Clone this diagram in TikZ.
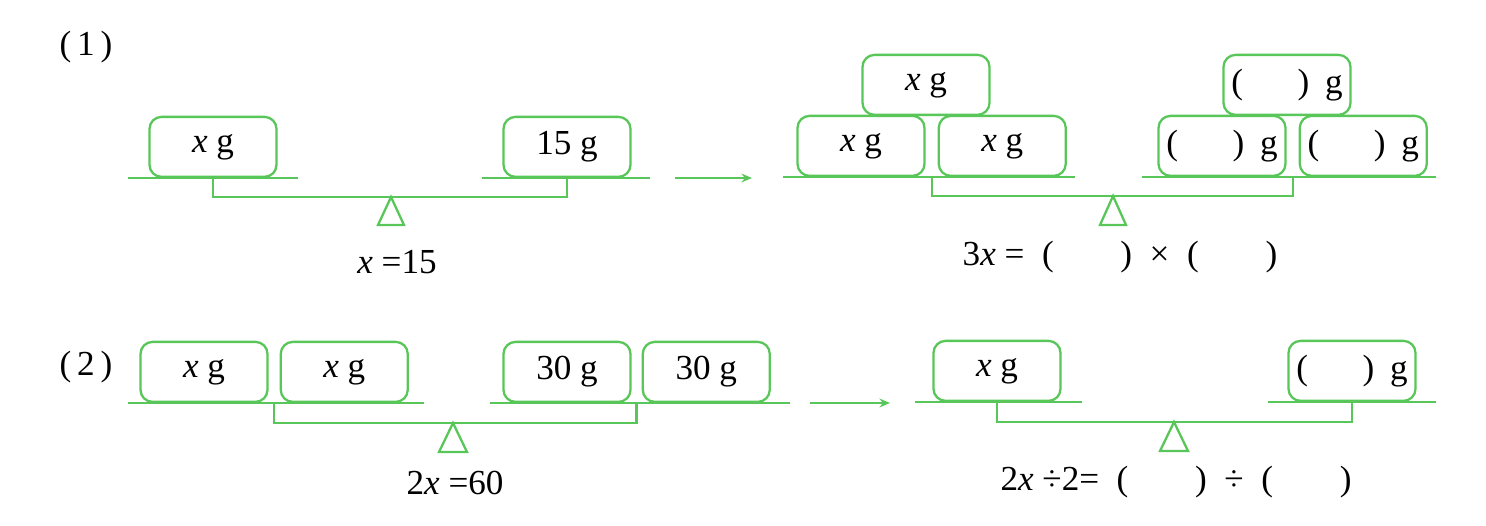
\documentclass[tikz,border=0pt]{standalone}
\usepackage{fontspec}
\setmainfont{Liberation Serif}
\usetikzlibrary{arrows.meta,positioning,calc}
\definecolor{balgreen}{RGB}{88,198,88}
\newcommand{\blankg}{(\hspace{1.55em})\hspace{0.45em}g}

\begin{document}
\begin{tikzpicture}[
    x=0.02cm, y=-0.02cm,
    font=\fontsize{20}{24}\selectfont,
    wt/.style={rectangle, draw=balgreen, rounded corners=0.24cm, minimum width=2.54cm,
        minimum height=1.2cm, inner sep=0pt, anchor=south, line width=1.3pt},
    bar/.style={draw=balgreen, line width=1.3pt},
    arr/.style={-{Stealth[length=6pt,width=5pt]}, draw=balgreen, line width=1.2pt},
    node distance=0.24cm
]
\useasboundingbox (0,0) rectangle (1486,525);

% (1) before
\node (lb1) at (86,47) {(\,1\,)};
\node[wt] (xa) at (213,178) {\textit{x} g};
\node[wt] (wa) at (567,178) {15 g};
\draw[bar] (128,178) -- (298,178);
\draw[bar] (482,178) -- (650,178);
\draw[bar] (xa.south) -- ++(0,19) -| (wa.south);
\draw[bar] (391,197) -- ++(-13,28) -- ++(26,0) -- cycle;
\node (eqa) at (397,262) {\textit{x} =15};

\coordinate (a1s) at (675,178);
\coordinate (a1e) at (752,178);
\draw[arr] (a1s) -- (a1e);

% (1) after
\node[wt] (xb1) at (861,177) {\textit{x} g};
\node[wt, right=of xb1] (xb2) {\textit{x} g};
\node[wt] (xb3) at (926,116) {\textit{x} g};
\node[wt] (qb1) at (1222,177) {\blankg};
\node[wt, right=of qb1] (qb2) {\blankg};
\node[wt] (qb3) at (1287,116) {\blankg};
\draw[bar] (783,177) -- (1075,177);
\draw[bar] (1142,177) -- (1436,177);
\draw[bar] ($(xb1.south east)!0.5!(xb2.south west)$) -- ++(0,19)
    -| ($(qb1.south east)!0.5!(qb2.south west)$);
\draw[bar] (1113,196) -- ++(-13,29) -- ++(26,0) -- cycle;
\node (eqb) at (1120,257) {3\textit{x} =\enspace(\hspace{1.9em})\enspace×\enspace(\hspace{1.9em})};

% (2) before
\node (lb2) at (86,367) {(\,2\,)};
\node[wt] (xc1) at (204,403) {\textit{x} g};
\node[wt, right=0.22cm of xc1] (xc2) {\textit{x} g};
\node[wt] (wc1) at (567,403) {30 g};
\node[wt, right=0.2cm of wc1] (wc2) {30 g};
\draw[bar] (128,403) -- (424,403);
\draw[bar] (490,403) -- (790,403);
\draw[bar] ($(xc1.south east)!0.5!(xc2.south west)$) -- ++(0,20)
    -| ($(wc1.south east)!0.5!(wc2.south west)$);
\draw[bar] (453,423) -- ++(-14,29) -- ++(28,0) -- cycle;
\node (eqc) at (455,483) {2\textit{x} =60};

\coordinate (a2s) at (810,403);
\coordinate (a2e) at (890,403);
\draw[arr] (a2s) -- (a2e);

% (2) after
\node[wt] (xd) at (997,402) {\textit{x} g};
\node[wt] (qd) at (1352,402) {\blankg};
\draw[bar] (915,402) -- (1082,402);
\draw[bar] (1268,402) -- (1436,402);
\draw[bar] (xd.south) -- ++(0,20) -| (qd.south);
\draw[bar] (1174,422) -- ++(-14,29) -- ++(28,0) -- cycle;
\node (eqd) at (1176,482) {2\textit{x} ÷2=\enspace(\hspace{1.9em})\enspace÷\enspace(\hspace{1.9em})};
\end{tikzpicture}
\end{document}
